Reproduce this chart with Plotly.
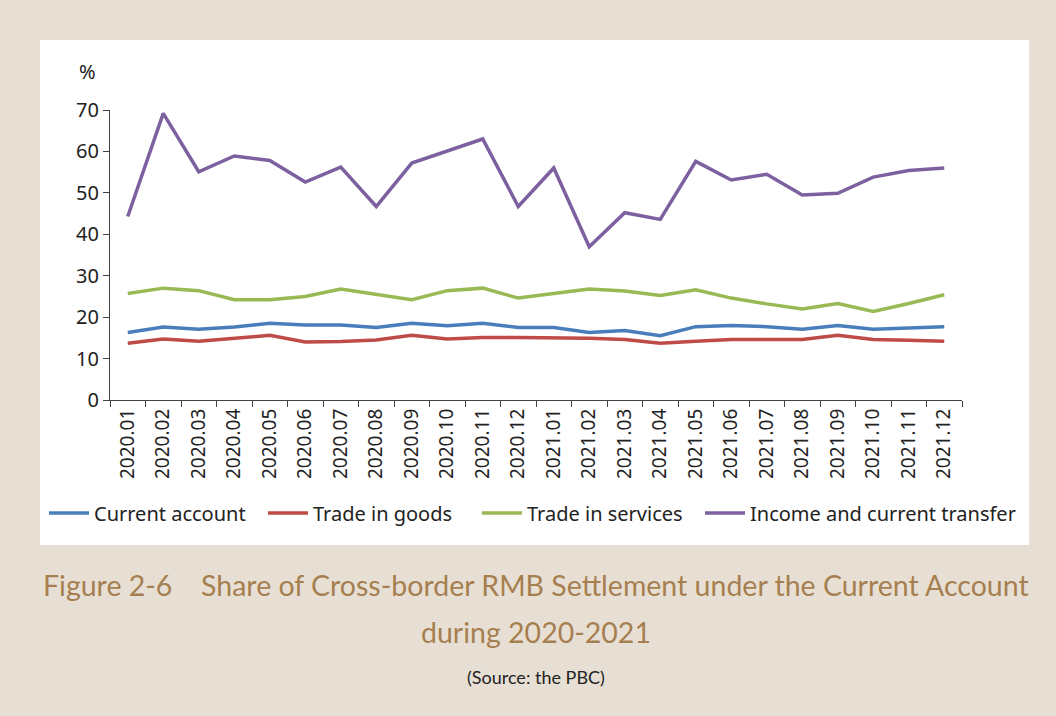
import plotly.graph_objects as go

months = ["2020.01","2020.02","2020.03","2020.04","2020.05","2020.06","2020.07","2020.08",
          "2020.09","2020.10","2020.11","2020.12","2021.01","2021.02","2021.03","2021.04",
          "2021.05","2021.06","2021.07","2021.08","2021.09","2021.10","2021.11","2021.12"]

current_account = [16.3,17.6,17.1,17.6,18.5,18.1,18.1,17.5,18.5,17.9,18.5,17.5,
                   17.5,16.3,16.8,15.5,17.7,18.0,17.7,17.1,18.0,17.1,17.4,17.7]
trade_goods = [13.7,14.7,14.2,15.0,15.6,14.0,14.1,14.5,15.6,14.7,15.1,15.1,
               15.1,14.9,14.6,13.7,14.2,14.6,14.6,14.6,15.6,14.6,14.4,14.2]
trade_services = [25.7,27.0,26.4,24.2,24.2,25.0,26.8,25.4,24.2,26.4,27.0,24.6,
                  25.6,26.8,26.3,25.2,26.6,24.6,23.2,22.0,23.3,21.4,23.3,25.4]
income_transfer = [44.3,69.2,55.1,58.9,57.8,52.6,56.2,46.7,57.2,60.1,63.0,46.7,
                   56.0,37.0,45.2,43.6,57.6,53.1,54.5,49.5,49.9,53.8,55.4,56.0]

series = [
    ("Current account", current_account, "#4a7ebb"),
    ("Trade in goods", trade_goods, "#be4b48"),
    ("Trade in services", trade_services, "#98b954"),
    ("Income and current transfer", income_transfer, "#7d60a0"),
]

# plot area pixel geometry
L, R, T, B = 110, 962, 110, 400
W, H = R - L, B - T
def px(x):
    return (x - L) / W
def py(y):
    return (B - y) / H

legend_ids = ["legend", "legend2", "legend3", "legend4"]
legend_text_x = [94, 313, 527, 750]

fig = go.Figure()
for (name, vals, color), lid in zip(series, legend_ids):
    fig.add_trace(go.Scatter(x=months, y=vals, mode="lines", name=name, legend=lid,
                             line=dict(color=color, width=3.5)))

TITLE_FONT = "Lato, Noto Sans, sans-serif"
legend_layout = {}
for lid, tx in zip(legend_ids, legend_text_x):
    legend_layout[lid] = dict(orientation="h", x=px(tx - 50), y=py(513),
                              xanchor="left", yanchor="middle",
                              font=dict(size=20, color="#222"),
                              bgcolor="rgba(0,0,0,0)", itemwidth=40)

fig.update_layout(
    width=1056, height=716,
    margin=dict(l=L, r=1056 - R, t=T, b=716 - B),
    paper_bgcolor="#e8dfd4",
    plot_bgcolor="white",
    font=dict(family="Noto Sans, sans-serif", color="#222222"),
    showlegend=True,
    xaxis=dict(type="category", showline=True, linecolor="#444", linewidth=1.2,
               ticks="outside", tickson="boundaries", ticklen=6, tickcolor="#444",
               tickangle=-90, tickfont=dict(size=19, color="#222"),
               showgrid=False, zeroline=False, range=[-0.5, 23.5]),
    yaxis=dict(range=[0, 70], dtick=10, showline=True, linecolor="#444", linewidth=1.2,
               ticks="outside", ticklen=6, tickcolor="#444",
               tickfont=dict(size=20, color="#222"), showgrid=False, zeroline=False),
    shapes=[dict(type="rect", xref="paper", yref="paper", layer="below",
                 x0=px(40), x1=px(1029), y0=py(545), y1=py(40),
                 fillcolor="white", line=dict(width=0))],
    annotations=[
        dict(text="%", xref="paper", yref="paper", x=px(87), y=py(71), showarrow=False,
             xanchor="center", yanchor="middle", font=dict(size=20, color="#222")),
        dict(text="Figure 2-6\u2003 Share of Cross-border RMB Settlement under the Current Account",
             xref="paper", yref="paper", x=px(536), y=py(585), showarrow=False,
             xanchor="center", yanchor="middle",
             font=dict(size=28.5, family=TITLE_FONT, color="#a67f50")),
        dict(text="during 2020-2021", xref="paper", yref="paper", x=px(536), y=py(632),
             showarrow=False, xanchor="center", yanchor="middle",
             font=dict(size=28.5, family=TITLE_FONT, color="#a67f50")),
        dict(text="(Source: the PBC)", xref="paper", yref="paper", x=px(536), y=py(677),
             showarrow=False, xanchor="center", yanchor="middle",
             font=dict(size=18, family=TITLE_FONT, color="#222")),
    ],
    **legend_layout,
)

fig.write_html("out.html", config={"displayModeBar": False},
               post_script="document.body.style.margin='0';document.body.style.background='#e8dfd4';")
